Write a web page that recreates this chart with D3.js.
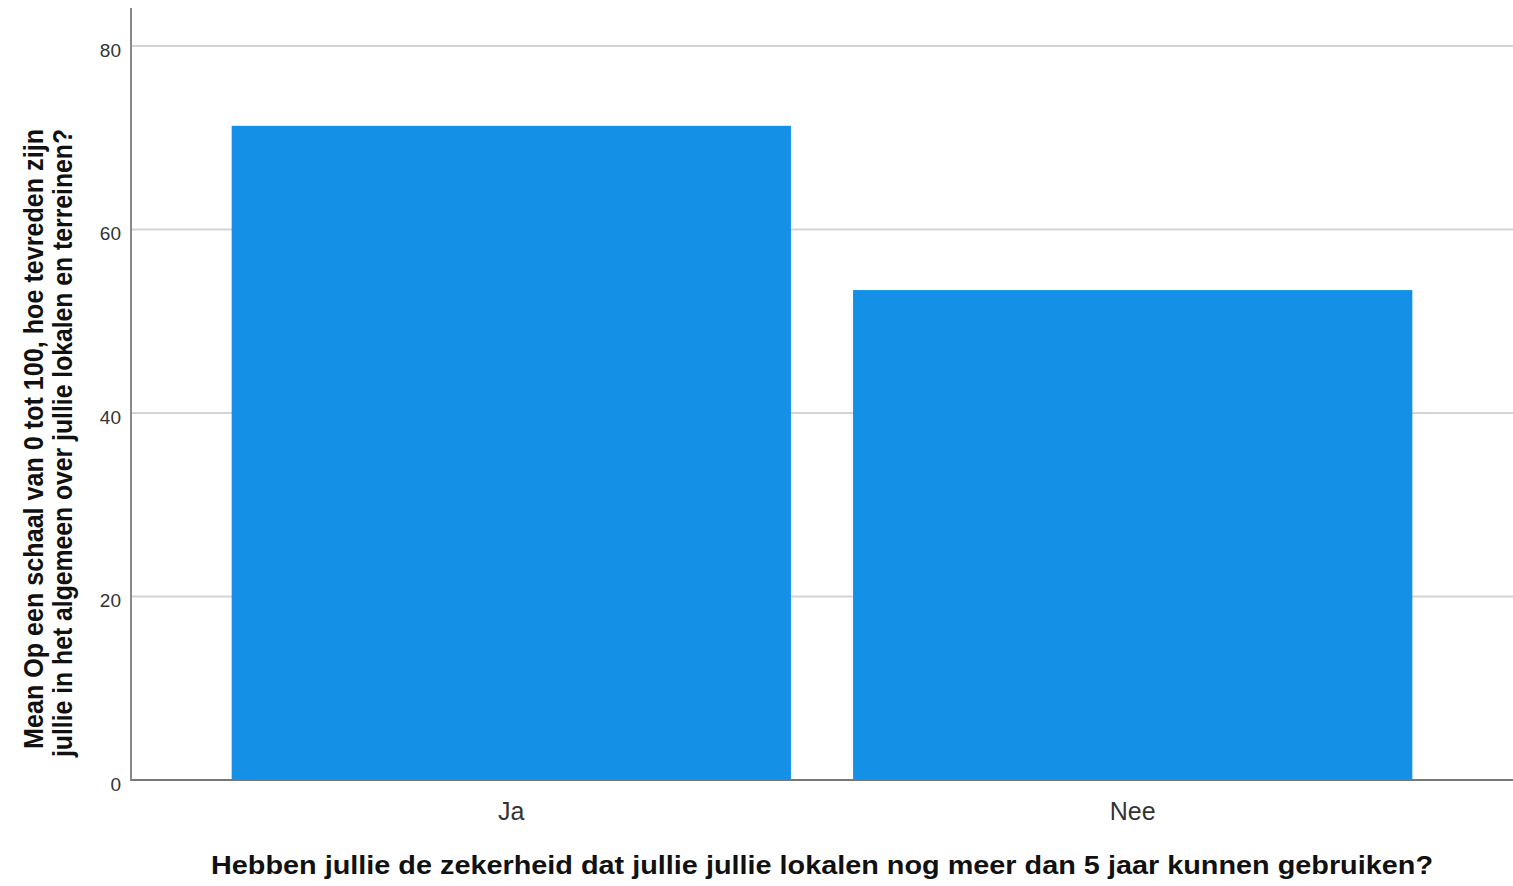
<!DOCTYPE html>
<html><head><meta charset="utf-8">
<script src="https://cdn.jsdelivr.net/npm/d3@7"></script>
<style>body{margin:0;background:#fff;}svg{display:block;font-family:"Liberation Sans",Arial,sans-serif;}</style>
</head><body>
<svg id="c" width="1513" height="886"></svg>
<script>
const categories = ["Ja", "Nee"];
const values = [71.3, 53.4];
const yTicks = [0, 20, 40, 60, 80];
const xTitle = "Hebben jullie de zekerheid dat jullie jullie lokalen nog meer dan 5 jaar kunnen gebruiken?";
const yTitleLines = ["Mean Op een schaal van 0 tot 100, hoe tevreden zijn", "jullie in het algemeen over jullie lokalen en terreinen?"];

(function () {
const svg = d3.select("#c");
const mLeft = 131, mRight = 1513, mTop = 8, mBottom = 780;
const x = d3.scaleBand().domain(categories).range([mLeft, mRight]).paddingInner(0.1).paddingOuter(0.162);
const y = d3.scaleLinear().domain([0, 80]).range([mBottom, 46]);

// gridlines
svg.append("g").selectAll("line").data(yTicks.filter(d => d > 0)).join("line")
  .attr("x1", mLeft).attr("x2", mRight).attr("y1", d => y(d)).attr("y2", d => y(d))
  .attr("stroke", "#d4d4d4").attr("stroke-width", 2);

// bars
svg.append("g").selectAll("rect").data(values).join("rect")
  .attr("x", (d, i) => x(categories[i])).attr("width", x.bandwidth())
  .attr("y", d => y(d)).attr("height", d => y(0) - y(d))
  .attr("fill", "#1490e6");

// y axis
const ya = svg.append("g").attr("transform", `translate(${mLeft},4)`)
  .call(d3.axisLeft(y).tickValues(yTicks).tickSize(0).tickPadding(10));
ya.select(".domain").remove();
ya.selectAll("text").attr("font-size", 19).attr("fill", "#333").attr("font-family", "Liberation Sans, Arial");
svg.append("line").attr("x1", mLeft).attr("x2", mLeft).attr("y1", mTop).attr("y2", mBottom + 1)
  .attr("stroke", "#888").attr("stroke-width", 2);

// x axis
const xa = svg.append("g").attr("transform", `translate(0,${mBottom})`)
  .call(d3.axisBottom(x).tickSize(0).tickPadding(22));
xa.select(".domain").remove();
xa.selectAll("text").attr("font-size", 25).attr("fill", "#333").attr("font-family", "Liberation Sans, Arial");
svg.append("line").attr("x1", mLeft).attr("x2", mRight).attr("y1", mBottom).attr("y2", mBottom)
  .attr("stroke", "#777").attr("stroke-width", 2);

// x title
svg.append("text").attr("x", 822).attr("y", 874).attr("text-anchor", "middle")
  .attr("font-size", 25).attr("font-weight", "bold").attr("fill", "#111")
  .attr("textLength", 1222).attr("lengthAdjust", "spacingAndGlyphs")
  .text(xTitle);

// y title
const yt = svg.append("g").attr("transform", "translate(0,439) rotate(-90)");
yt.append("text").attr("x", 0).attr("y", 43).attr("text-anchor", "middle")
  .attr("font-size", 28).attr("font-weight", "bold").attr("fill", "#111")
  .attr("textLength", 620).attr("lengthAdjust", "spacingAndGlyphs").text(yTitleLines[0]);
yt.append("text").attr("x", -4).attr("y", 72).attr("text-anchor", "middle")
  .attr("font-size", 28).attr("font-weight", "bold").attr("fill", "#111")
  .attr("textLength", 628).attr("lengthAdjust", "spacingAndGlyphs").text(yTitleLines[1]);
})();
</script>
</body></html>
